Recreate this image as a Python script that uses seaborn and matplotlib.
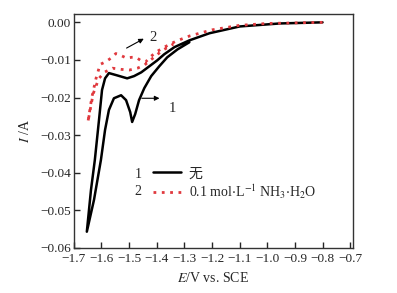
import pandas as pd
import matplotlib
matplotlib.use("Agg")
import matplotlib.pyplot as plt
import seaborn as sns
from matplotlib.lines import Line2D

# -----------------------------
# Data (E in V vs. SCE, I in A)
# -----------------------------
# curve 1: sweep from -0.8 V to the vertex and back
e1 = [-0.80, -0.955, -1.10, -1.209, -1.282, -1.336, -1.373, -1.398, -1.427, -1.456,
      -1.482, -1.507, -1.544, -1.573, -1.587, -1.598, -1.609, -1.624, -1.638, -1.653,
      -1.627, -1.602, -1.587, -1.573, -1.555, -1.529, -1.511, -1.496, -1.489, -1.478,
      -1.464, -1.445, -1.420, -1.391, -1.362, -1.325, -1.282]
i1 = [0.0, -0.0003, -0.0011, -0.0029, -0.0048, -0.0066, -0.0085, -0.0101, -0.0117, -0.0133,
      -0.0143, -0.0149, -0.0141, -0.0135, -0.0149, -0.018, -0.026, -0.0366, -0.0446, -0.0557,
      -0.0472, -0.0366, -0.0286, -0.0233, -0.0202, -0.0194, -0.0207, -0.0239, -0.0265, -0.0244,
      -0.0207, -0.0175, -0.0143, -0.0117, -0.0093, -0.0072, -0.0053]

# curve 2: with 0.1 mol/L NH3.H2O
e2 = [-0.80, -1.00, -1.10, -1.20, -1.28, -1.33, -1.37, -1.40, -1.42, -1.44,
      -1.455, -1.475, -1.49, -1.51, -1.53, -1.548, -1.565, -1.585, -1.605, -1.62,
      -1.635, -1.649, -1.63, -1.61, -1.59, -1.56, -1.53, -1.50, -1.47, -1.445,
      -1.415, -1.38, -1.34]
i2 = [0.0, -0.0003, -0.0008, -0.002, -0.0036, -0.005, -0.0065, -0.0078, -0.009, -0.0105,
      -0.0103, -0.0093, -0.0093, -0.0095, -0.0088, -0.0083, -0.0095, -0.0105, -0.0112, -0.015,
      -0.02, -0.0265, -0.019, -0.015, -0.0133, -0.0122, -0.0125, -0.0127, -0.0122, -0.0114,
      -0.0096, -0.0075, -0.0058]

x_ticks = [-1.7, -1.6, -1.5, -1.4, -1.3, -1.2, -1.1, -1.0, -0.9, -0.8, -0.7]
y_ticks = [0.00, -0.01, -0.02, -0.03, -0.04, -0.05, -0.06]
legend_labels = ["无", "0.1 mol$\\cdot$L$^{-1}$ NH$_3$$\\cdot$H$_2$O"]

df1 = pd.DataFrame({"E": e1, "I": i1})
df2 = pd.DataFrame({"E": e2, "I": i2})

sns.set_style("white")
plt.rcParams["font.family"] = ["Liberation Serif", "Noto Sans CJK SC"]
plt.rcParams["mathtext.fontset"] = "stix"

fig = plt.figure(figsize=(3.97, 2.93), dpi=100)
ax = fig.add_axes([0.186, 0.154, 0.703, 0.798])

red = "#e0393e"
sns.lineplot(x="E", y="I", data=df1, sort=False, estimator=None, color="black",
             linewidth=1.8, ax=ax)
sns.lineplot(x="E", y="I", data=df2, sort=False, estimator=None, color=red,
             linewidth=2.0, linestyle=(0, (1, 2)), ax=ax)

ax.set_xlim(-1.7, -0.69)
ax.set_ylim(-0.06, 0.0022)
ax.set_xticks(x_ticks)
ax.set_xticklabels([f"{t:.1f}".replace("-", "\u2212") for t in x_ticks])
ax.set_yticks(y_ticks)
ax.set_yticklabels([f"{t:.2f}".replace("-", "\u2212") for t in y_ticks])
ax.tick_params(axis="x", pad=4)
ax.tick_params(axis="y", pad=2)
ax.tick_params(direction="in", length=4, width=1, labelsize=9.5,
               bottom=True, left=True, top=False, right=False)
for s in ax.spines.values():
    s.set_color("#333333")
    s.set_linewidth(1.0)

ax.set_xlabel("$\\it{E}$/V vs. SCE", fontsize=10, labelpad=4)
ax.set_ylabel("$\\it{I}$ /A", fontsize=10, labelpad=6)

# arrows pointing to the curves
ax.annotate("", xy=(-1.438, -0.0040), xytext=(-1.518, -0.0072),
            arrowprops=dict(arrowstyle="-|>", color="black", lw=0.8, mutation_scale=7))
ax.text(-1.425, -0.0040, "2", fontsize=10.5, va="center", ha="left")
ax.annotate("", xy=(-1.38, -0.0202), xytext=(-1.464, -0.0202),
            arrowprops=dict(arrowstyle="-|>", color="black", lw=0.8, mutation_scale=7))
ax.text(-1.355, -0.0228, "1", fontsize=10.5, va="center", ha="left")

# legend with curve numbers in front
handles = [Line2D([], [], color="black", linewidth=1.8),
           Line2D([], [], color=red, linewidth=2.0, linestyle=(0, (1, 2)))]
ax.legend(handles, legend_labels, frameon=False, fontsize=10, loc="upper left",
          bbox_to_anchor=(0.283, 0.345), handlelength=2.0, handletextpad=0.6,
          labelspacing=0.15, borderaxespad=0, borderpad=0)
ax.text(0.229, 0.312, "1", transform=ax.transAxes, fontsize=10, va="center", ha="center")
ax.text(0.229, 0.239, "2", transform=ax.transAxes, fontsize=10, va="center", ha="center")

fig.savefig("out.png", dpi=100)
